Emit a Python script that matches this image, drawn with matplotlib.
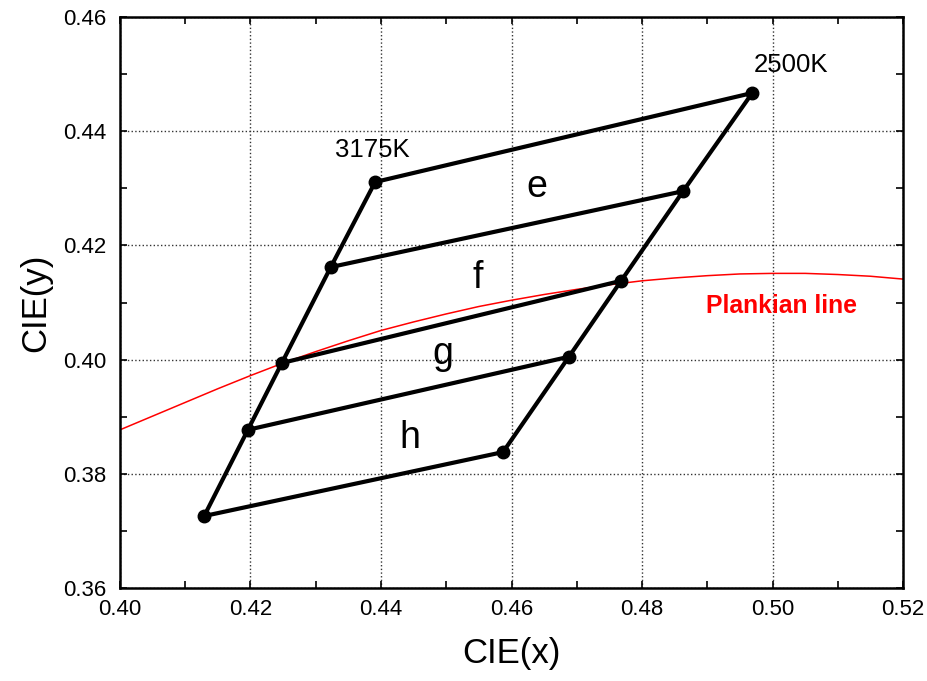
import matplotlib
matplotlib.use("Agg")
import matplotlib.pyplot as plt
from matplotlib.ticker import MultipleLocator, FormatStrFormatter

plt.rcParams['font.family'] = ['Liberation Sans', 'DejaVu Sans']

# left edge of the quadrangles (3175K side), top to bottom
left_x = [0.4391, 0.4323, 0.4248, 0.4196, 0.4129]
left_y = [0.4311, 0.4162, 0.3994, 0.3877, 0.3726]
# right edge (2500K side), top to bottom
right_x = [0.4969, 0.4863, 0.4768, 0.4688, 0.4587]
right_y = [0.4467, 0.4295, 0.4138, 0.4005, 0.3838]

# Planckian locus
planck_x = [0.400, 0.405, 0.410, 0.415, 0.420, 0.425, 0.430, 0.435, 0.440, 0.445,
            0.450, 0.455, 0.460, 0.465, 0.470, 0.475, 0.480, 0.485, 0.490, 0.495,
            0.500, 0.505, 0.510, 0.515, 0.520]
planck_y = [0.3877, 0.3901, 0.3925, 0.3949, 0.3972, 0.3994, 0.4014, 0.4033, 0.4051, 0.4066,
            0.4080, 0.4093, 0.4104, 0.4114, 0.4123, 0.4131, 0.4138, 0.4143, 0.4147, 0.4150,
            0.4151, 0.4151, 0.4149, 0.4146, 0.4141]

region_names = ['e', 'f', 'g', 'h']
region_pos = [(0.4639, 0.4285), (0.4549, 0.4125), (0.4495, 0.3993), (0.4444, 0.3845)]

fig = plt.figure(figsize=(9.28, 6.81), dpi=100)
ax = fig.add_axes([0.1293, 0.1366, 0.8438, 0.8384])

ax.plot(planck_x, planck_y, color='red', lw=1.1, zorder=2)

line_kw = dict(color='black', lw=3, solid_capstyle='round', zorder=3)
ax.plot(left_x, left_y, **line_kw)
ax.plot(right_x, right_y, **line_kw)
for i in range(len(left_x)):
    ax.plot([left_x[i], right_x[i]], [left_y[i], right_y[i]], **line_kw)
ax.plot(left_x + right_x, left_y + right_y, 'o', color='black', ms=9, zorder=4)

ax.text(0.4386, 0.4355, '3175K', fontsize=18.5, ha='center', va='baseline')
ax.text(0.5029, 0.4504, '2500K', fontsize=18.5, ha='center', va='baseline')
for name, (tx, ty) in zip(region_names, region_pos):
    ax.text(tx, ty, name, fontsize=27, ha='center', va='baseline')
ax.text(0.5013, 0.4081, 'Plankian line', fontsize=17.8, color='red',
        fontweight='bold', ha='center', va='baseline')

ax.set_xlim(0.40, 0.52)
ax.set_ylim(0.36, 0.46)
ax.xaxis.set_major_locator(MultipleLocator(0.02))
ax.xaxis.set_minor_locator(MultipleLocator(0.01))
ax.yaxis.set_major_locator(MultipleLocator(0.02))
ax.yaxis.set_minor_locator(MultipleLocator(0.01))
ax.xaxis.set_major_formatter(FormatStrFormatter('%.2f'))
ax.yaxis.set_major_formatter(FormatStrFormatter('%.2f'))
ax.tick_params(which='both', direction='in', top=True, right=True, width=1.2)
ax.tick_params(which='major', length=5, labelsize=16, pad=8)
ax.tick_params(axis='y', which='major', pad=9.5)
ax.tick_params(which='minor', length=5)
ax.grid(True, which='major', ls=':', color='#333333', lw=1)
for s in ax.spines.values():
    s.set_linewidth(1.8)

ax.set_xlabel('CIE(x)', fontsize=25, labelpad=12)
ax.set_ylabel('CIE(y)', fontsize=25, labelpad=8)

fig.savefig('out.png', dpi=100)
